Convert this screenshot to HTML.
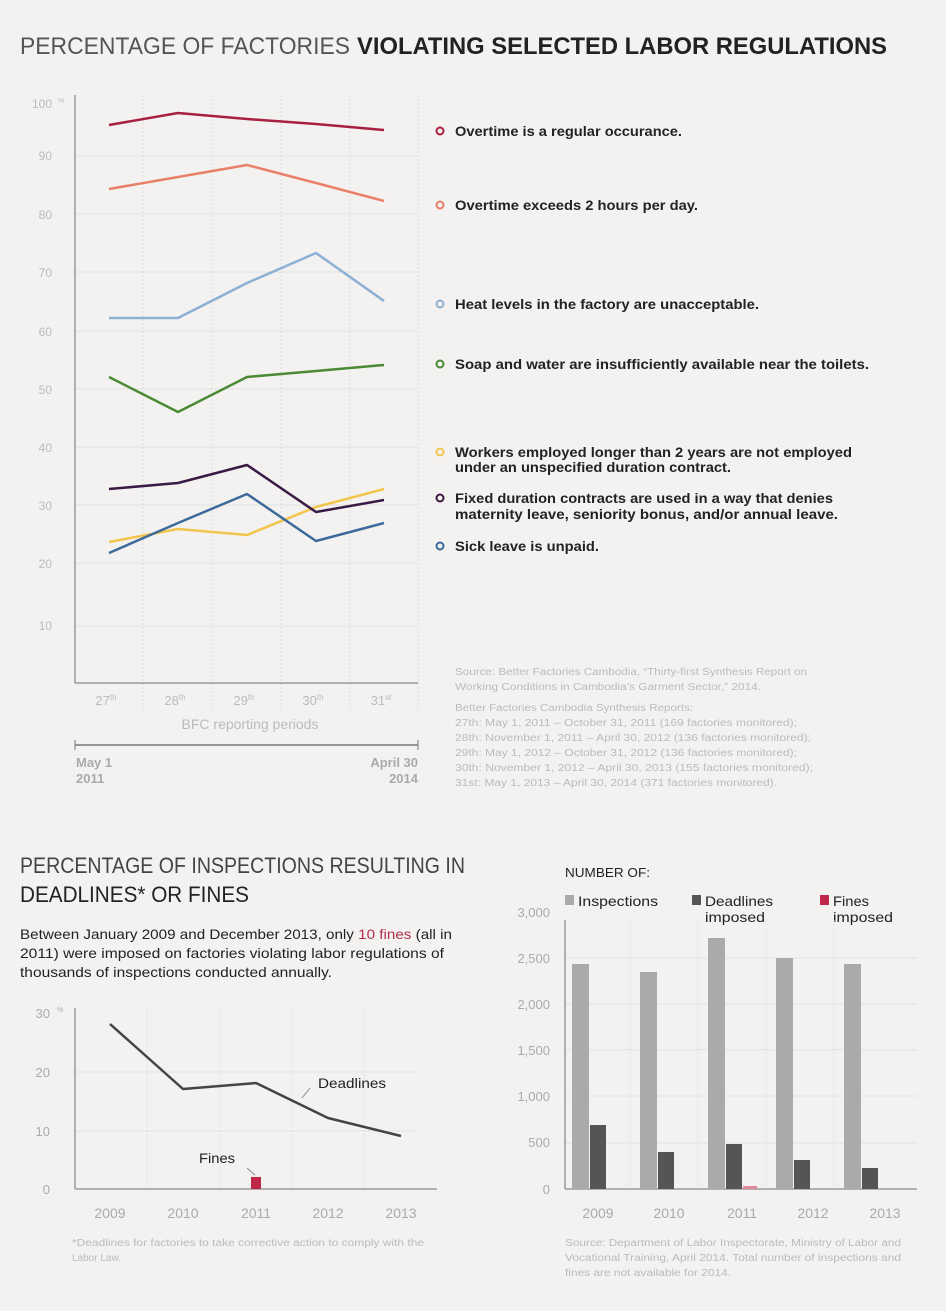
<!DOCTYPE html>
<html><head><meta charset="utf-8"><style>
html,body{margin:0;padding:0;background:#f3f2f1;}
svg{display:block;font-family:"Liberation Sans",sans-serif;}
</style></head><body>
<svg width="946" height="1311" viewBox="0 0 946 1311">
<rect width="946" height="1311" fill="#f3f2f1"/>
<!-- Title -->
<text x="20" y="54" font-size="24" fill="#555" textLength="330" lengthAdjust="spacingAndGlyphs">PERCENTAGE OF FACTORIES</text>
<text x="357" y="54" font-size="24" font-weight="bold" fill="#222" textLength="530" lengthAdjust="spacingAndGlyphs">VIOLATING SELECTED LABOR REGULATIONS</text>

<!-- top chart grid -->
<g stroke="#e2e1e0" stroke-width="1">
<line x1="75" y1="156" x2="418" y2="156"/><line x1="75" y1="214" x2="418" y2="214"/><line x1="75" y1="272" x2="418" y2="272"/><line x1="75" y1="331" x2="418" y2="331"/><line x1="75" y1="389" x2="418" y2="389"/><line x1="75" y1="447" x2="418" y2="447"/><line x1="75" y1="505" x2="418" y2="505"/><line x1="75" y1="563" x2="418" y2="563"/><line x1="75" y1="626" x2="418" y2="626"/>
</g>
<g stroke="#dcdbda" stroke-dasharray="2,2">
<line x1="143" y1="95" x2="143" y2="710"/><line x1="212" y1="95" x2="212" y2="710"/><line x1="281" y1="95" x2="281" y2="710"/><line x1="350" y1="95" x2="350" y2="710"/><line x1="418" y1="95" x2="418" y2="710"/>
</g>
<line x1="75" y1="95" x2="75" y2="683" stroke="#999" stroke-width="1.5"/>
<line x1="75" y1="683" x2="418" y2="683" stroke="#999" stroke-width="1.5"/>
<g font-size="12" fill="#bbb" text-anchor="end">
<text x="52" y="108">100</text><text x="58" y="103" font-size="7" text-anchor="start">%</text>
<text x="52" y="160">90</text><text x="52" y="219">80</text><text x="52" y="277">70</text><text x="52" y="336">60</text><text x="52" y="394">50</text><text x="52" y="452">40</text><text x="52" y="510">30</text><text x="52" y="568">20</text><text x="52" y="630">10</text>
</g>
<g font-size="13" fill="#bbb" text-anchor="middle">
<text x="106" y="705">27<tspan font-size="8" dy="-5">th</tspan></text>
<text x="175" y="705">28<tspan font-size="8" dy="-5">th</tspan></text>
<text x="244" y="705">29<tspan font-size="8" dy="-5">th</tspan></text>
<text x="313" y="705">30<tspan font-size="8" dy="-5">th</tspan></text>
<text x="381" y="705">31<tspan font-size="8" dy="-5">st</tspan></text>
<text x="250" y="729" font-size="14">BFC reporting periods</text>
</g>
<line x1="75" y1="745" x2="418" y2="745" stroke="#777" stroke-width="1.5"/>
<line x1="75" y1="740" x2="75" y2="750" stroke="#777"/><line x1="418" y1="740" x2="418" y2="750" stroke="#777"/>
<g font-size="13" fill="#aaa" font-weight="bold">
<text x="76" y="767">May 1</text><text x="76" y="783">2011</text>
<text x="418" y="767" text-anchor="end">April 30</text><text x="418" y="783" text-anchor="end">2014</text>
</g>
<g fill="none" stroke-width="2.5" stroke-linejoin="round">
<polyline stroke="#a8203f" points="109,125 178,113 247,119 316,124 384,130"/>
<polyline stroke="#e8806a" points="109,189 178,177 247,165 316,183 384,201"/>
<polyline stroke="#8cb0d4" points="109,318 178,318 247,283 316,253 384,301"/>
<polyline stroke="#4a8a34" points="109,377 178,412 247,377 316,371 384,365"/>
<polyline stroke="#f2c54c" points="109,542 178,529 247,535 316,507 384,489"/>
<polyline stroke="#3a1a44" points="109,489 178,483 247,465 316,512 384,500"/>
<polyline stroke="#3d6a9a" points="109,553 178,523 247,494 316,541 384,523"/>
</g>
<!-- legend -->
<g fill="none" stroke-width="2">
<circle cx="440" cy="131" r="3.5" stroke="#a8203f"/>
<circle cx="440" cy="205" r="3.5" stroke="#e8806a"/>
<circle cx="440" cy="304" r="3.5" stroke="#8cb0d4"/>
<circle cx="440" cy="364" r="3.5" stroke="#4a8a34"/>
<circle cx="440" cy="452" r="3.5" stroke="#f2c54c"/>
<circle cx="440" cy="498" r="3.5" stroke="#3a1a44"/>
<circle cx="440" cy="546" r="3.5" stroke="#3d6a9a"/>
</g>
<g font-size="14" fill="#222" font-weight="bold">
<text x="455" y="136" textLength="227" lengthAdjust="spacingAndGlyphs">Overtime is a regular occurance.</text>
<text x="455" y="210" textLength="243" lengthAdjust="spacingAndGlyphs">Overtime exceeds 2 hours per day.</text>
<text x="455" y="309" textLength="304" lengthAdjust="spacingAndGlyphs">Heat levels in the factory are unacceptable.</text>
<text x="455" y="369" textLength="414" lengthAdjust="spacingAndGlyphs">Soap and water are insufficiently available near the toilets.</text>
<text x="455" y="457" textLength="397" lengthAdjust="spacingAndGlyphs">Workers employed longer than 2 years are not employed</text>
<text x="455" y="472" textLength="276" lengthAdjust="spacingAndGlyphs">under an unspecified duration contract.</text>
<text x="455" y="503" textLength="378" lengthAdjust="spacingAndGlyphs">Fixed duration contracts are used in a way that denies</text>
<text x="455" y="519" textLength="383" lengthAdjust="spacingAndGlyphs">maternity leave, seniority bonus, and/or annual leave.</text>
<text x="455" y="551" textLength="144" lengthAdjust="spacingAndGlyphs">Sick leave is unpaid.</text>
</g>
<g font-size="10" fill="#bbb">
<text x="455" y="675" textLength="352" lengthAdjust="spacingAndGlyphs">Source: Better Factories Cambodia, “Thirty-first Synthesis Report on</text>
<text x="455" y="690" textLength="306" lengthAdjust="spacingAndGlyphs">Working Conditions in Cambodia’s Garment Sector,” 2014.</text>
<text x="455" y="711" textLength="238" lengthAdjust="spacingAndGlyphs">Better Factories Cambodia Synthesis Reports:</text>
<text x="455" y="726" textLength="342" lengthAdjust="spacingAndGlyphs">27th: May 1, 2011 – October 31, 2011 (169 factories monitored);</text>
<text x="455" y="741" textLength="356" lengthAdjust="spacingAndGlyphs">28th: November 1, 2011 – April 30, 2012 (136 factories monitored);</text>
<text x="455" y="756" textLength="342" lengthAdjust="spacingAndGlyphs">29th: May 1, 2012 – October 31, 2012 (136 factories monitored);</text>
<text x="455" y="771" textLength="358" lengthAdjust="spacingAndGlyphs">30th: November 1, 2012 – April 30, 2013 (155 factories monitored);</text>
<text x="455" y="786" textLength="322" lengthAdjust="spacingAndGlyphs">31st: May 1, 2013 – April 30, 2014 (371 factories monitored).</text>
</g>

<!-- bottom left -->
<text x="20" y="873" font-size="22" fill="#444" textLength="445" lengthAdjust="spacingAndGlyphs">PERCENTAGE OF INSPECTIONS RESULTING IN</text>
<text x="20" y="902" font-size="22" fill="#222" textLength="229" lengthAdjust="spacingAndGlyphs">DEADLINES* OR FINES</text>
<g font-size="14" fill="#222">
<text x="20" y="939" textLength="432" lengthAdjust="spacingAndGlyphs">Between January 2009 and December 2013, only <tspan fill="#b0304a">10 fines</tspan> (all in</text>
<text x="20" y="958" textLength="424" lengthAdjust="spacingAndGlyphs">2011) were imposed on factories violating labor regulations of</text>
<text x="20" y="977" textLength="312" lengthAdjust="spacingAndGlyphs">thousands of inspections conducted annually.</text>
</g>
<g stroke="#e2e1e0"><line x1="75" y1="1072" x2="415" y2="1072"/><line x1="75" y1="1131" x2="415" y2="1131"/></g>
<g stroke="#e0dfde" stroke-dasharray="2,2"><line x1="147" y1="1010" x2="147" y2="1189"/><line x1="220" y1="1010" x2="220" y2="1189"/><line x1="292" y1="1010" x2="292" y2="1189"/><line x1="364" y1="1010" x2="364" y2="1189"/></g>
<line x1="75" y1="1008" x2="75" y2="1189" stroke="#999" stroke-width="1.5"/>
<line x1="75" y1="1189" x2="437" y2="1189" stroke="#999" stroke-width="1.5"/>
<g font-size="13" fill="#aaa" text-anchor="end">
<text x="50" y="1018">30</text><text x="57" y="1012" font-size="7" text-anchor="start">%</text>
<text x="50" y="1077">20</text><text x="50" y="1136">10</text><text x="50" y="1194">0</text>
</g>
<polyline fill="none" stroke="#444" stroke-width="2.5" stroke-linejoin="round" points="110,1024 183,1089 256,1083 328,1118 401,1136"/>
<rect x="251" y="1177" width="10" height="12" fill="#c0284a"/>
<line x1="247" y1="1168" x2="255" y2="1175" stroke="#888"/>
<line x1="302" y1="1098" x2="310" y2="1088" stroke="#888"/>
<text x="318" y="1088" font-size="14" fill="#222" textLength="68" lengthAdjust="spacingAndGlyphs">Deadlines</text>
<text x="199" y="1163" font-size="14" fill="#222" textLength="36" lengthAdjust="spacingAndGlyphs">Fines</text>
<g font-size="14" fill="#aaa" text-anchor="middle">
<text x="110" y="1218">2009</text><text x="183" y="1218">2010</text><text x="256" y="1218">2011</text><text x="328" y="1218">2012</text><text x="401" y="1218">2013</text>
</g>
<g font-size="10" fill="#bbb">
<text x="72" y="1246" textLength="352" lengthAdjust="spacingAndGlyphs">*Deadlines for factories to take corrective action to comply with the</text>
<text x="72" y="1261">Labor Law.</text>
</g>

<!-- bottom right -->
<text x="565" y="877" font-size="13" fill="#222" textLength="85" lengthAdjust="spacingAndGlyphs">NUMBER OF:</text>
<rect x="565" y="895" width="9" height="10" fill="#aaa"/>
<text x="578" y="906" font-size="14" fill="#222" textLength="80" lengthAdjust="spacingAndGlyphs">Inspections</text>
<rect x="692" y="895" width="9" height="10" fill="#555"/>
<text x="705" y="906" font-size="14" fill="#222" textLength="68" lengthAdjust="spacingAndGlyphs">Deadlines</text>
<text x="705" y="922" font-size="14" fill="#222" textLength="60" lengthAdjust="spacingAndGlyphs">imposed</text>
<rect x="820" y="895" width="9" height="10" fill="#c0284a"/>
<text x="833" y="906" font-size="14" fill="#222" textLength="36" lengthAdjust="spacingAndGlyphs">Fines</text>
<text x="833" y="922" font-size="14" fill="#222" textLength="60" lengthAdjust="spacingAndGlyphs">imposed</text>
<g stroke="#e2e1e0">
<line x1="565" y1="958" x2="917" y2="958"/><line x1="565" y1="1004" x2="917" y2="1004"/><line x1="565" y1="1050" x2="917" y2="1050"/><line x1="565" y1="1096" x2="917" y2="1096"/><line x1="565" y1="1143" x2="917" y2="1143"/>
</g>
<g stroke="#e0dfde" stroke-dasharray="2,2"><line x1="630" y1="920" x2="630" y2="1189"/><line x1="698" y1="920" x2="698" y2="1189"/><line x1="766" y1="920" x2="766" y2="1189"/><line x1="834" y1="920" x2="834" y2="1189"/></g>
<line x1="565" y1="920" x2="565" y2="1189" stroke="#999" stroke-width="1.5"/>
<line x1="565" y1="1189" x2="917" y2="1189" stroke="#999" stroke-width="1.5"/>
<g font-size="13" fill="#aaa" text-anchor="end">
<text x="550" y="917">3,000</text><text x="550" y="963">2,500</text><text x="550" y="1009">2,000</text><text x="550" y="1055">1,500</text><text x="550" y="1101">1,000</text><text x="550" y="1147">500</text><text x="550" y="1194">0</text>
</g>
<g fill="#aaa">
<rect x="572" y="964" width="17" height="225"/><rect x="640" y="972" width="17" height="217"/><rect x="708" y="938" width="17" height="251"/><rect x="776" y="958" width="17" height="231"/><rect x="844" y="964" width="17" height="225"/>
</g>
<g fill="#555">
<rect x="590" y="1125" width="16" height="64"/><rect x="658" y="1152" width="16" height="37"/><rect x="726" y="1144" width="16" height="45"/><rect x="794" y="1160" width="16" height="29"/><rect x="862" y="1168" width="16" height="21"/>
</g>
<rect x="743" y="1186" width="14" height="3" fill="#e08a9c"/>
<g font-size="14" fill="#aaa" text-anchor="middle">
<text x="598" y="1218">2009</text><text x="669" y="1218">2010</text><text x="742" y="1218">2011</text><text x="813" y="1218">2012</text><text x="885" y="1218">2013</text>
</g>
<g font-size="10" fill="#bbb">
<text x="565" y="1246" textLength="336" lengthAdjust="spacingAndGlyphs">Source: Department of Labor Inspectorate, Ministry of Labor and</text>
<text x="565" y="1261" textLength="336" lengthAdjust="spacingAndGlyphs">Vocational Training, April 2014. Total number of inspections and</text>
<text x="565" y="1276" textLength="166" lengthAdjust="spacingAndGlyphs">fines are not available for 2014.</text>
</g>
</svg>
</body></html>
